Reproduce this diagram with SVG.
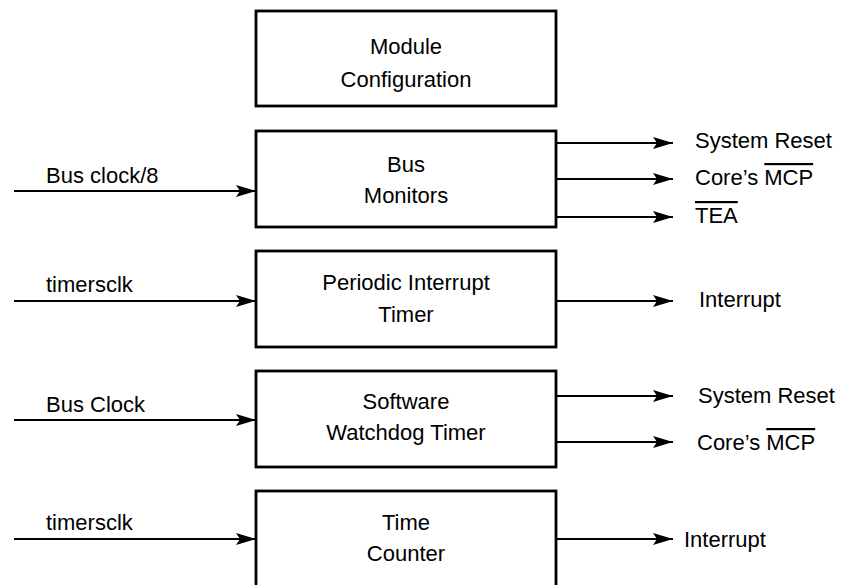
<svg xmlns="http://www.w3.org/2000/svg" width="849" height="585" viewBox="0 0 849 585">
<style>
.box{fill:#fff;stroke:#000;stroke-width:2.8}
.t{font-family:"Liberation Sans",Arial,sans-serif;font-size:22px;fill:#000}
.c{text-anchor:middle}
.w{stroke:#000;stroke-width:2.2;fill:none;marker-end:url(#ah)}
.ov{text-decoration:overline}
</style>
<defs>
<marker id="ah" markerUnits="userSpaceOnUse" markerWidth="22" markerHeight="14" refX="20" refY="7" orient="auto">
<path d="M0,1 L20,7 L0,13 L4,7 Z" fill="#000"/>
</marker>
</defs>
<rect width="849" height="585" fill="#fff"/>
<g id="module-config">
<rect class="box" x="256" y="11" width="300" height="95"/>
<text class="t c" x="406" y="54">Module</text>
<text class="t c" x="406" y="87">Configuration</text>
</g>
<g id="bus-monitors">
<rect class="box" x="256" y="131" width="300" height="96"/>
<text class="t c" x="406" y="172">Bus</text>
<text class="t c" x="406" y="203">Monitors</text>
</g>
<g id="pit">
<rect class="box" x="256" y="251" width="300" height="96"/>
<text class="t c" x="406" y="290">Periodic Interrupt</text>
<text class="t c" x="406" y="322">Timer</text>
</g>
<g id="swt">
<rect class="box" x="256" y="371" width="300" height="96"/>
<text class="t c" x="406" y="409">Software</text>
<text class="t c" x="406" y="440">Watchdog Timer</text>
</g>
<g id="time-counter">
<rect class="box" x="256" y="491" width="300" height="100"/>
<text class="t c" x="406" y="530">Time</text>
<text class="t c" x="406" y="561">Counter</text>
</g>
<g id="connectors">
<line class="w" x1="14" y1="191" x2="256" y2="191"/>
<line class="w" x1="556" y1="143" x2="673" y2="143"/>
<line class="w" x1="556" y1="179" x2="673" y2="179"/>
<line class="w" x1="556" y1="217" x2="673" y2="217"/>
<line class="w" x1="14" y1="301" x2="256" y2="301"/>
<line class="w" x1="556" y1="301" x2="673" y2="301"/>
<line class="w" x1="14" y1="420" x2="256" y2="420"/>
<line class="w" x1="556" y1="396" x2="673" y2="396"/>
<line class="w" x1="556" y1="442" x2="673" y2="442"/>
<line class="w" x1="14" y1="539" x2="256" y2="539"/>
<line class="w" x1="556" y1="539" x2="673" y2="539"/>
</g>
<g id="labels">
<text class="t" x="46" y="183">Bus clock/8</text>
<text class="t" x="695" y="148">System Reset</text>
<text class="t" x="695" y="185">Core’s <tspan class="ov">MCP</tspan></text>
<text class="t" x="695" y="223"><tspan class="ov">TEA</tspan></text>
<text class="t" x="46" y="292">timersclk</text>
<text class="t" x="699" y="307">Interrupt</text>
<text class="t" x="46" y="412">Bus Clock</text>
<text class="t" x="698" y="403">System Reset</text>
<text class="t" x="697" y="450">Core’s <tspan class="ov">MCP</tspan></text>
<text class="t" x="46" y="530">timersclk</text>
<text class="t" x="684" y="547">Interrupt</text>
</g>
</svg>
